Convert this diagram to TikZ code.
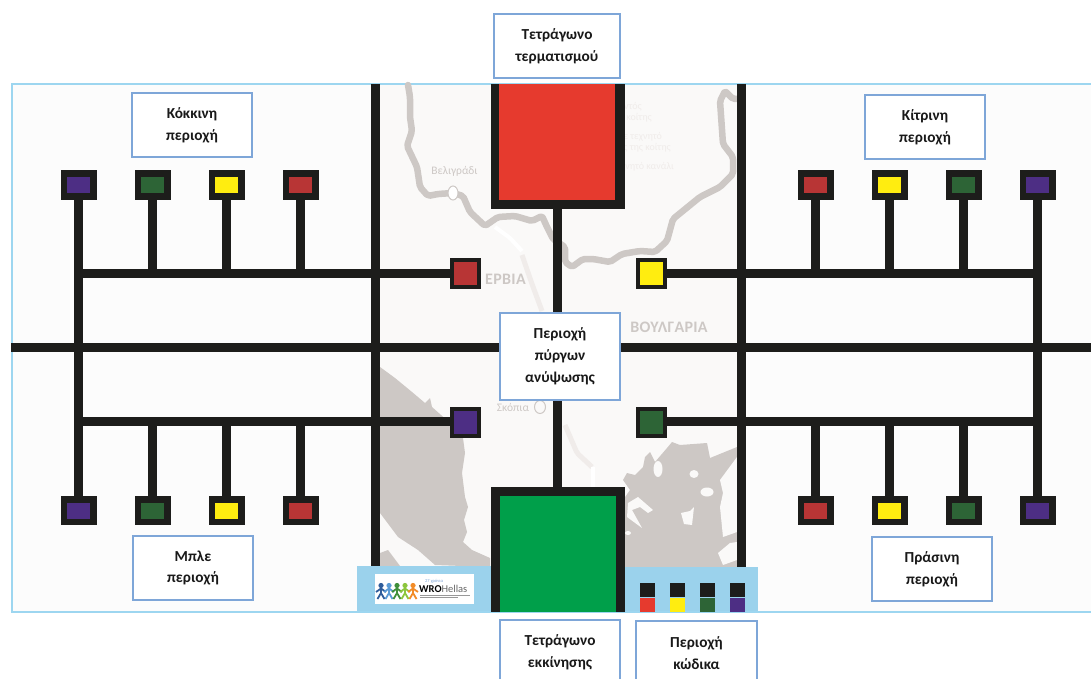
\documentclass[tikz,border=0pt]{standalone}
\usepackage{fontspec}
\setmainfont{Carlito}
\usetikzlibrary{positioning}
\definecolor{tileblack}{HTML}{1D1D1B}
\definecolor{fieldline}{HTML}{9DD6F0}
\definecolor{bandblue}{HTML}{9BD2EC}
\definecolor{boxline}{HTML}{7EA6D8}
\definecolor{mapfill}{HTML}{FAF9F8}
\definecolor{landgrey}{HTML}{CDC8C5}
\definecolor{mapfaint}{HTML}{F0ECEA}
\definecolor{tilered}{HTML}{B83535}
\definecolor{tileyellow}{HTML}{FFED10}
\definecolor{tilegreen}{HTML}{2D6436}
\definecolor{tilepurple}{HTML}{4D2E84}
\definecolor{blockred}{HTML}{E63A2E}
\definecolor{blockgreen}{HTML}{009F4A}
\tikzset{
  wire/.style={draw=tileblack,line width=9pt},
  tilebox/.style={draw=tileblack,line width=6.5pt,minimum width=29.5pt,minimum height=22.5pt,inner sep=0pt},
  squarebox/.style={draw=tileblack,line width=4pt,minimum width=27pt,minimum height=27pt,inner sep=0pt},
  blockbox/.style={minimum width=#1,anchor=north west,inner sep=0pt},
  labelbox/.style={draw=boxline,fill=white,line width=1.2pt,minimum width=120pt,minimum height=64pt,
    inner sep=0pt,align=center,font=\fontsize{15.3}{21.8}\selectfont\bfseries,text=black!90},
  maptext/.style={text=landgrey,inner sep=0pt},
  river/.style={draw=landgrey,line width=6.5pt,line join=round,line cap=round,rounded corners=2pt}
}
\newcommand{\fieldtile}[4]{%
  \node[tilebox,fill=#4] (#1) at (#2,#3) {};
}
\begin{document}
\begin{tikzpicture}[x=1pt,y=-1pt]
  \useasboundingbox (0,0) rectangle (1091,679);
  \draw[draw=fieldline,line width=2pt,fill=white!99!black] (11.5,84) rectangle (1100,612);
  \fill[mapfill] (380,85) rectangle (737,567);
  % map
  \draw[river] (408,85) -- (410,97) -- (410,117) -- (412,131) -- (407,146) -- (417,167) -- (420,187)
    -- (428,196) -- (438,194) -- (453,193) -- (463,196) -- (470,212) -- (485,226) -- (498,217)
    -- (515,216) -- (532,221) -- (542,216) -- (547,227) -- (553,239) -- (565,247) -- (565,262)
    -- (572,267) -- (583,259) -- (593,259) -- (610,262) -- (622,254) -- (640,251) -- (655,252)
    -- (667,241) -- (673,219) -- (700,197) -- (720,187) -- (733,174) -- (733,157) -- (723,144)
    -- (720,101) -- (725,91) -- (733,99) -- (737,99);
  \draw[white,line width=4pt,rounded corners=2pt] (495,227) -- (510,238) -- (522,251);
  \draw[mapfaint,line width=5pt,rounded corners=2pt] (522,255) -- (532,284) -- (542,311);
  \draw[mapfaint,line width=5pt,rounded corners=2pt] (565,425) -- (577,453) -- (592,467);
  \draw[white,line width=4pt] (593,467) -- (593,487);
  \fill[landgrey] (380,367) -- (395,378) -- (412,392) -- (425,403) -- (430,398) -- (432,407) -- (450,423)
    -- (463,438) -- (465,453) -- (462,473) -- (465,497) -- (468,507) -- (464,520) -- (467,532) -- (463,542)
    -- (472,550) -- (490,558) -- (490,567) -- (435,565) -- (418,550) -- (398,537) -- (380,513) -- cycle;
  \fill[landgrey] (380,553) -- (388,550) -- (400,566) -- (380,566) -- cycle;
  \fill[landgrey] (737,447) -- (710,458) -- (707,443) -- (680,445) -- (672,442) -- (667,448) -- (655,462)
    -- (650,452) -- (645,457) -- (643,467) -- (635,475) -- (627,473) -- (623,480) -- (630,490) -- (623,500)
    -- (623,567) -- (737,567) -- cycle;
  \fill[mapfill] (628,503) -- (638,497) -- (653,510) -- (648,513) -- (640,507) -- (632,510) -- (642,528)
    -- (627,517) -- cycle;
  \fill[mapfill] (737,457) -- (720,480) -- (723,493) -- (720,507) -- (723,537) -- (737,532) -- cycle;
  \fill[mapfill] (737,542) -- (730,543) -- (718,553) -- (723,565) -- (737,560) -- cycle;
  \fill[mapfill] (658,469) ellipse (4.5 and 8);
  \fill[mapfill] (694,474) ellipse (4.5 and 4);
  \fill[mapfill] (707,492) ellipse (6.5 and 4.5);
  \fill[mapfill] (681,513) -- (690,511) -- (694,507) -- (692,525) -- (684,524) -- cycle;
  \fill[mapfill] (628,533) ellipse (3 and 2);
  \draw[landgrey,line width=1pt,fill=white] (453,193) ellipse (5 and 7);
  \draw[landgrey,line width=1pt] (540,407) ellipse (5.5 and 6.5);
  \node[maptext,font=\fontsize{11.5}{12}\selectfont] (belgrade) at (454.5,171) {Βελιγράδι};
  \node[maptext,font=\fontsize{11.5}{12}\selectfont] (skopje) at (513,407) {Σκόπια};
  \node[maptext,font=\fontsize{16}{16}\selectfont\bfseries\addfontfeature{LetterSpace=2},anchor=west] (serbia) at (485,279) {ΕΡΒΙΑ};
  \node[maptext,font=\fontsize{16}{16}\selectfont\bfseries\addfontfeature{LetterSpace=2}] (bulgaria) at (669,327) {ΒΟΥΛΓΑΡΙΑ};
  \foreach \n/\x/\y/\t in {1/642/107/ντός, 2/652/118/ς κοίτης, 3/662/137/ε τεχνητό, 4/671/148/τός της κοίτης, 5/674/167/τεχνητό κανάλι} {
    \node[text=mapfaint,inner sep=0pt,anchor=east,font=\fontsize{10}{10}\selectfont] (legend\n) at (\x,\y) {\t};
  }
  % bands
  \fill[bandblue] (357,566) rectangle (491,611);
  \fill[bandblue] (625,567) rectangle (758,611);
  \node[fill=white,minimum width=99pt,minimum height=30pt,anchor=north west,inner sep=0pt] (logo) at (375,574) {};
  \foreach \x/\col in {381/2F5D9B, 389/5B9BD5, 397/3F8F3A, 405/8DC63F, 413/F28C28} {
    \definecolor{folk}{HTML}{\col}
    \fill[folk] (\x,585.5) circle (2.6);
    \draw[folk,line width=1.8pt] (\x-5,592) -- (\x,588.5) -- (\x+5,592) (\x,588) -- (\x,593) -- (\x-3.5,599) (\x,593) -- (\x+3.5,599);
  }
  \node[inner sep=0pt,anchor=west,font=\fontsize{10.5}{10.5}\selectfont\bfseries] (wro) at (419,589) {WRO\textcolor{black!60}{\mdseries Hellas}};
  \node[inner sep=0pt,anchor=west,text=boxline,font=\fontsize{4.5}{5}\selectfont] (years) at (425,581.5) {27 χρόνια};
  \draw[black!40,line width=0.7pt] (wro.south west) ++(1,2) -- ++(50,0) ++(-50,2.5) -- ++(38,0);
  % wires
  \coordinate (hTL) at (78.5,273.5);
  \coordinate (hBL) at (78.5,421.5);
  \coordinate (hTR) at (1037.5,273.5);
  \coordinate (hBR) at (1037.5,421.5);
  \coordinate (midW) at (11,347.5);
  \coordinate (midE) at (1091,347.5);
  \coordinate (vLt) at (375.5,84);
  \coordinate (vLb) at (375.5,566);
  \coordinate (vRt) at (741.5,84);
  \coordinate (vRb) at (741.5,567);
  \foreach \n/\x/\col in {1/78.7/tilepurple, 2/152.7/tilegreen, 3/226.7/tileyellow, 4/300.7/tilered} {
    \fieldtile{tl\n}{\x}{185}{\col}
    \fieldtile{bl\n}{\x}{510.5}{\col}
    \draw[wire] (tl\n) -- (tl\n |- hTL);
    \draw[wire] (bl\n) -- (bl\n |- hBL);
  }
  \foreach \n/\x/\col in {1/815.7/tilered, 2/889.7/tileyellow, 3/963.7/tilegreen, 4/1037.7/tilepurple} {
    \fieldtile{tr\n}{\x}{185}{\col}
    \fieldtile{br\n}{\x}{510.5}{\col}
    \draw[wire] (tr\n) -- (tr\n |- hTR);
    \draw[wire] (br\n) -- (br\n |- hBR);
  }
  \node[squarebox,fill=tilered] (redsq) at (465.5,273.5) {};
  \node[squarebox,fill=tileyellow] (yellowsq) at (651.5,273.5) {};
  \node[squarebox,fill=tilepurple] (bluesq) at (465.5,422.5) {};
  \node[squarebox,fill=tilegreen] (greensq) at (651.5,422.5) {};
  \node[blockbox=134pt,fill=tileblack,minimum height=125pt] (finish) at (491,84) {};
  \node[blockbox=116pt,fill=blockred,minimum height=116pt] (finishin) at (499,84) {};
  \node[blockbox=134pt,fill=tileblack,minimum height=125pt] (start) at (491,487) {};
  \node[blockbox=116pt,fill=blockgreen,minimum height=116pt] (startin) at (500,496) {};
  \draw[wire] (tl1) -- (bl1);
  \draw[wire] (tr4) -- (br4);
  \draw[wire] (hTL) -- (redsq);
  \draw[wire] (hBL) -- (hBL -| bluesq.west);
  \draw[wire] (hTR) -- (yellowsq);
  \draw[wire] (hBR) -- (hBR -| greensq.east);
  \draw[wire] (midW) -- (midE);
  \draw[wire] (vLt) -- (vLb);
  \draw[wire] (vRt) -- (vRb);
  \draw[wire] (finish.south -| 557.5,0) -- (start.north -| 557.5,0);
  % code tiles
  \foreach \n/\x/\col in {1/647.5/blockred, 2/677.5/tileyellow, 3/707/tilegreen, 4/737/tilepurple} {
    \node[fill=tileblack,minimum width=15pt,minimum height=14.5pt,inner sep=0pt] (cap\n) at (\x,590) {};
    \node[fill=\col,minimum width=15pt,minimum height=14.5pt,inner sep=0pt,below=0pt of cap\n] (bar\n) {};
  }
  % labels
  \node[labelbox,minimum width=126pt] (finishlabel) at (557,46) {Τετράγωνο\\τερματισμού};
  \node[labelbox,minimum height=87pt] (towerlabel) at (560,356.5) {Περιοχή\\πύργων\\ανύψωσης};
  \node[labelbox] (startlabel) at (560,652) {Τετράγωνο\\εκκίνησης};
  \node[labelbox,minimum width=121pt] (codelabel) at (696.5,653) {Περιοχή\\κώδικα};
  \node[labelbox] (redlabel) at (192,125) {Κόκκινη\\περιοχή};
  \node[labelbox] (yellowlabel) at (925,127) {Κίτρινη\\περιοχή};
  \node[labelbox] (bluelabel) at (193,568) {Μπλε\\περιοχή};
  \node[labelbox] (greenlabel) at (932,569) {Πράσινη\\περιοχή};
\end{tikzpicture}
\end{document}
